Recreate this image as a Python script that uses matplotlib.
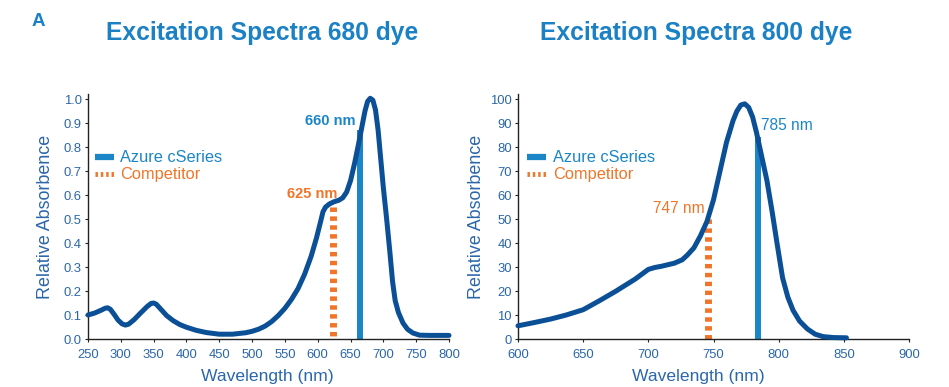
import matplotlib
matplotlib.use("Agg")
import matplotlib.pyplot as plt
from matplotlib.lines import Line2D

plt.rcParams['font.family'] = ['Liberation Sans', 'DejaVu Sans']

# ---------------- data ----------------
# Excitation spectrum, 680 dye
wl_680 = [250, 260, 270, 276, 280, 284, 290, 296, 302, 307, 312, 320, 330, 340, 346, 350,
          354, 360, 370, 380, 390, 400, 415, 430, 450, 470, 490, 500, 510, 520, 530, 540,
          550, 560, 570, 580, 590, 598, 604, 608, 612, 618, 625, 632, 638, 644, 650, 656,
          662, 667, 672, 676, 680, 684, 688, 692, 696, 700, 705, 710, 714, 718, 723, 730,
          737, 745, 755, 770, 800]
abs_680 = [0.100, 0.108, 0.120, 0.128, 0.130, 0.124, 0.102, 0.078, 0.063, 0.058, 0.062, 0.080,
           0.108, 0.135, 0.148, 0.150, 0.145, 0.127, 0.097, 0.076, 0.060, 0.049, 0.036, 0.027,
           0.020, 0.020, 0.026, 0.032, 0.041, 0.054, 0.073, 0.098, 0.128, 0.165, 0.210, 0.270,
           0.345, 0.420, 0.485, 0.530, 0.550, 0.563, 0.572, 0.578, 0.588, 0.612, 0.660, 0.730,
           0.810, 0.880, 0.950, 0.990, 1.003, 0.995, 0.955, 0.870, 0.750, 0.630, 0.500, 0.360,
           0.240, 0.160, 0.110, 0.066, 0.040, 0.025, 0.016, 0.015, 0.015]
azure_680_nm, azure_680_top = 664, 0.87
comp_680_nm, comp_680_top = 624, 0.55

# Excitation spectrum, 800 dye
wl_800 = [600, 612, 625, 637, 650, 662, 675, 690, 700, 705, 710, 720, 726, 730, 735, 740,
          745, 750, 755, 760, 765, 768, 771, 774, 777, 780, 783, 787, 791, 795, 799, 803,
          807, 811, 816, 822, 828, 834, 842, 852]
abs_800 = [5.5, 6.8, 8.3, 10.0, 12.2, 15.8, 19.9, 25.0, 29.0, 29.8, 30.3, 31.6, 33.0, 35.0,
           38.0, 43.0, 49.0, 58.0, 70.0, 82.0, 91.0, 95.0, 97.5, 98.0, 96.5, 92.5, 86.0,
           76.0, 66.0, 53.0, 39.0, 25.5, 17.5, 12.0, 7.5, 4.2, 2.0, 1.0, 0.6, 0.5]
azure_800_nm, azure_800_top = 784.5, 84.0
comp_800_nm, comp_800_top = 745.5, 50.0

yticks_680 = [0.0, 0.1, 0.2, 0.3, 0.4, 0.5, 0.6, 0.7, 0.8, 0.9, 1.0]
xticks_680 = [250, 300, 350, 400, 450, 500, 550, 600, 650, 700, 750, 800]
yticks_800 = [0, 10, 20, 30, 40, 50, 60, 70, 80, 90, 100]
xticks_800 = [600, 650, 700, 750, 800, 850, 900]

# ---------------- style ----------------
TITLE_C = '#1b80c4'
CURVE_C = '#0b4f96'
AZURE_C = '#1a86c8'
ORANGE_C = '#f07528'
TICK_C = '#2a66aa'
SPINE_C = '#222222'

fig = plt.figure(figsize=(9.49, 3.87), dpi=100)
axL = fig.add_axes([88/949, 48/387, 361/949, 244.8/387])
axR = fig.add_axes([518/949, 48/387, 391/949, 244.8/387])


def style_axes(ax):
    for s in ['top', 'right']:
        ax.spines[s].set_visible(False)
    for s in ['left', 'bottom']:
        ax.spines[s].set_color(SPINE_C)
        ax.spines[s].set_linewidth(1.0)
    ax.tick_params(axis='both', colors=SPINE_C, labelcolor=TICK_C, labelsize=9.4,
                   length=2.5, width=0.8, direction='out')
    ax.tick_params(axis='x', pad=4.5)
    ax.tick_params(axis='y', pad=2)


def draw(ax, wl, ab, az_nm, az_top, cp_nm, cp_top):
    ax.plot([cp_nm, cp_nm], [cp_top, 0], color=ORANGE_C, lw=5.0,
            ls=(0, (0.64, 0.64)), solid_capstyle='butt', zorder=2)
    ax.plot([az_nm, az_nm], [0, az_top], color=AZURE_C, lw=4.3,
            solid_capstyle='butt', zorder=2)
    ax.plot(wl, ab, color=CURVE_C, lw=3.6, solid_capstyle='round',
            solid_joinstyle='round', zorder=3, clip_on=False)


style_axes(axL)
style_axes(axR)

draw(axL, wl_680, abs_680, azure_680_nm, azure_680_top, comp_680_nm, comp_680_top)
draw(axR, wl_800, abs_800, azure_800_nm, azure_800_top, comp_800_nm, comp_800_top)

axL.set_xlim(250, 800)
axL.set_ylim(0, 1.02)
axL.set_xticks(xticks_680)
axL.set_yticks(yticks_680)
axL.set_yticklabels([f'{v:.1f}' for v in yticks_680])

axR.set_xlim(600, 900)
axR.set_ylim(0, 102)
axR.set_xticks(xticks_800)
axR.set_yticks(yticks_800)

for ax, xl_x in ((axL, 0.498), (axR, 0.461)):
    ax.set_xlabel('Wavelength (nm)', color=TICK_C, fontsize=12.6)
    ax.set_ylabel('Relative Absorbence', color=TICK_C, fontsize=12.9)
    ax.xaxis.set_label_coords(xl_x, -0.124)

axL.yaxis.set_label_coords(-0.094, 0.5)
axR.yaxis.set_label_coords(-0.084, 0.5)

# annotations
axL.text(658.3, 0.91, '660 nm', color=AZURE_C, fontsize=10.5, fontweight='bold',
         ha='right', va='center')
axL.text(629.8, 0.604, '625 nm', color=ORANGE_C, fontsize=10.5, fontweight='bold',
         ha='right', va='center')
axR.text(786.1, 88.75, '785 nm', color=AZURE_C, fontsize=11.2, ha='left', va='center')
axR.text(743.5, 54.4, '747 nm', color=ORANGE_C, fontsize=11.2, ha='right', va='center')

# legends
for ax, x0 in ((axL, 0.019), (axR, 0.024)):
    h = [Line2D([], [], color=AZURE_C, lw=4.5, solid_capstyle='butt'),
         Line2D([], [], color=ORANGE_C, lw=3.5, ls=(0, (0.5, 0.6)))]
    ax.legend(h, ['Azure cSeries', 'Competitor'], loc='center left',
              bbox_to_anchor=(x0, 0.705), frameon=False, fontsize=11.8,
              handlelength=1.15, handletextpad=0.4, labelspacing=0.12,
              borderpad=0, borderaxespad=0,
              labelcolor=[AZURE_C, ORANGE_C])

# titles
fig.text(0.2759, 1 - 40/387, 'Excitation Spectra 680 dye', color=TITLE_C,
         fontsize=17.7, fontweight='bold', ha='center', va='baseline')
fig.text(0.7334, 1 - 40/387, 'Excitation Spectra 800 dye', color=TITLE_C,
         fontsize=17.7, fontweight='bold', ha='center', va='baseline')
fig.text(32/949, 1 - 26/387, 'A', color=TITLE_C, fontsize=13.5, fontweight='bold',
         ha='left', va='baseline')

fig.savefig('out.png', dpi=100)
